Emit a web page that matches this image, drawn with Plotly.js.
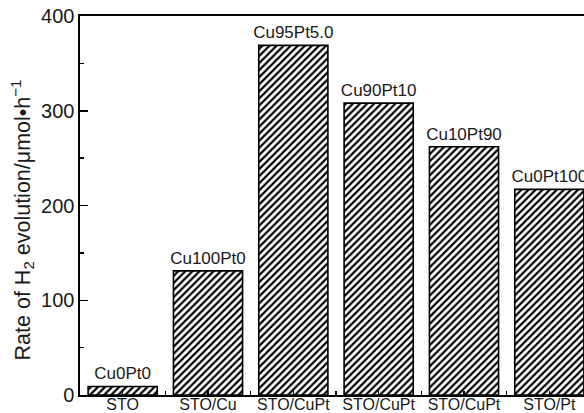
<!DOCTYPE html>
<html>
<head>
<meta charset="utf-8">
<script src="https://cdn.plot.ly/plotly-3.0.1.min.js"></script>
<style>
html,body{margin:0;padding:0;overflow:hidden;background:#fff;width:584px;height:413px;}
#chart{width:600px;height:413px;}
</style>
</head>
<body>
<div id="chart"></div>
<script>
const categories = ["STO", "STO/Cu", "STO/CuPt", "STO/CuPt", "STO/CuPt", "STO/Pt"];
const sampleLabels = ["Cu0Pt0", "Cu100Pt0", "Cu95Pt5.0", "Cu90Pt10", "Cu10Pt90", "Cu0Pt100"];
const h2Rates = [9, 131, 369, 308, 262, 217];
const positions = [0, 1, 2, 3, 4, 5];
const yTickVals = [0, 100, 200, 300, 400];

const FONT = "Liberation Sans, Arial, Helvetica, sans-serif";
const INK = "#1a1a1a";

const trace = {
  type: "bar",
  x: positions,
  y: h2Rates,
  text: sampleLabels,
  textposition: "outside",
  constraintext: "none",
  cliponaxis: false,
  textfont: {family: FONT, size: 17, color: INK},
  marker: {
    color: "#ffffff",
    line: {color: "#000000", width: 1.6},
    pattern: {shape: "/", fgcolor: "#000000", bgcolor: "#ffffff", size: 5, solidity: 0.45}
  },
  hoverinfo: "none"
};

const layout = {
  width: 600,
  height: 413,
  margin: {l: 80, r: 8, t: 16, b: 18, pad: 0},
  paper_bgcolor: "#ffffff",
  plot_bgcolor: "#ffffff",
  showlegend: false,
  bargap: 0.19,
  font: {family: FONT, color: INK},
  xaxis: {
    type: "linear",
    range: [-0.5, 5.5],
    tickmode: "array",
    tickvals: positions,
    ticktext: categories,
    ticks: "inside",
    ticklen: 4,
    tickwidth: 1.3,
    tickcolor: "#000",
    tickfont: {family: FONT, size: 16, color: INK},
    ticklabelstandoff: -6,
    showline: true,
    linecolor: "#000",
    linewidth: 1.6,
    mirror: true,
    showgrid: false,
    zeroline: false,
    automargin: false,
    minor: {tickmode: "array", tickvals: [0.5, 1.5, 2.5, 3.5, 4.5], ticks: "inside", ticklen: 4, tickwidth: 1.3, tickcolor: "#000", showgrid: false}
  },
  yaxis: {
    range: [0, 400],
    tickmode: "array",
    tickvals: yTickVals,
    ticks: "inside",
    ticklen: 8,
    tickwidth: 1.5,
    tickcolor: "#000",
    tickfont: {family: FONT, size: 20, color: INK},
    ticklabelstandoff: 0,
    showline: true,
    linecolor: "#000",
    linewidth: 1.6,
    mirror: true,
    showgrid: false,
    zeroline: false,
    automargin: false,
    minor: {dtick: 50, tick0: 0, ticks: "inside", ticklen: 4, tickwidth: 1.3, tickcolor: "#000", showgrid: false}
  },
  annotations: [{
    xref: "paper", yref: "paper",
    x: -0.113, y: 0.461,
    xanchor: "center", yanchor: "middle",
    textangle: -90,
    showarrow: false,
    text: "Rate of H<sub>2</sub> evolution/μmol•h<sup>−1</sup>",
    font: {family: FONT, size: 21.5, color: INK}
  }]
};

Plotly.newPlot("chart", [trace], layout, {staticPlot: true, displayModeBar: false});
</script>
</body>
</html>
